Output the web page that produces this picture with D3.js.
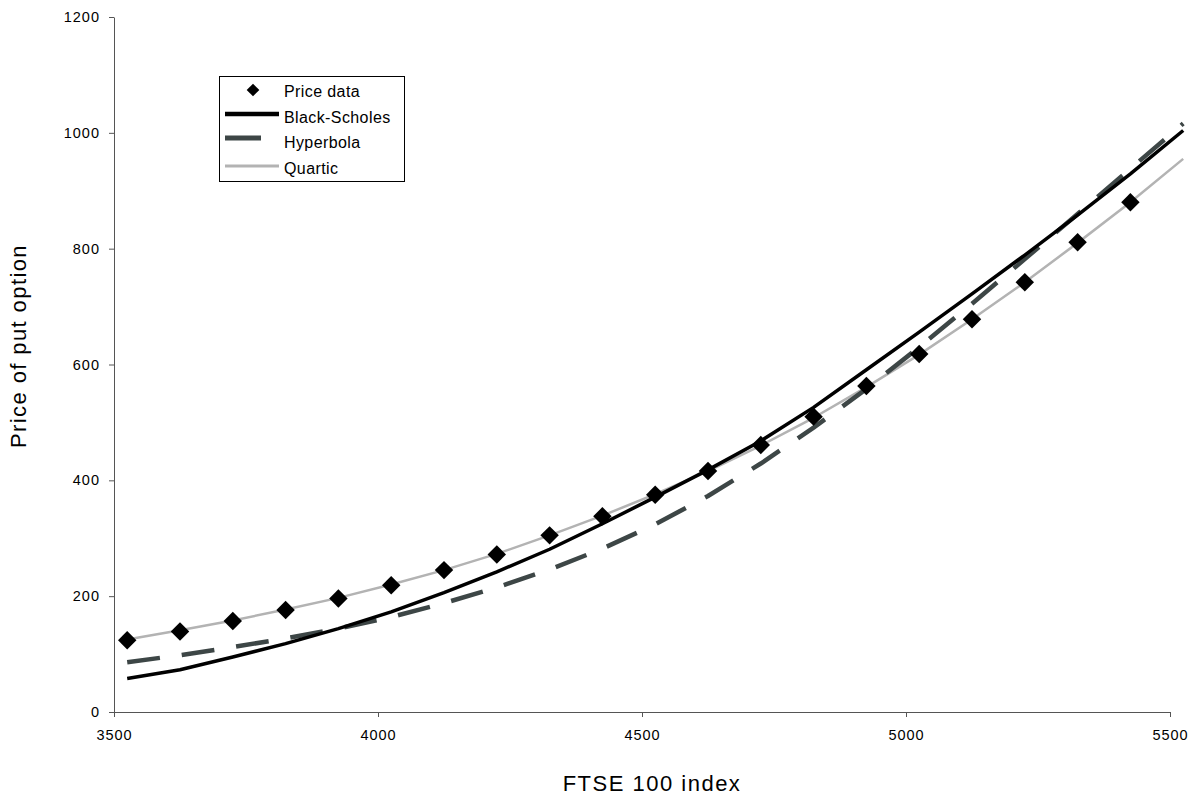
<!DOCTYPE html>
<html>
<head>
<meta charset="utf-8">
<script src="https://cdn.jsdelivr.net/npm/d3@7"></script>
<style>
    body { margin: 0; background: #fff; }
    svg { display: block; font-family: "Liberation Sans", Arial, sans-serif; }
</style>
</head>
<body>
<svg id="chart"></svg>
<script>
// --------------------
//  data
// --------------------
// FTSE 100 index (observed prices)
const priceX = [3525, 3625, 3725, 3825, 3925, 4025, 4125, 4225, 4325, 4425,
                4525, 4625, 4725, 4825, 4925, 5025, 5125, 5225, 5325, 5425];
const priceData = [124, 139, 157, 176, 196, 219, 245, 272, 305, 338,
                   375, 416, 461, 510, 563, 618, 678, 742, 811, 880];

// fitted curves (one more point at the right end)
const curveX = [3525, 3625, 3725, 3825, 3925, 4025, 4125, 4225, 4325, 4425,
                4525, 4625, 4725, 4825, 4925, 5025, 5125, 5225, 5325, 5425, 5525];
const blackScholes = [58, 73, 95, 118, 144, 173, 206, 242, 281, 325,
                      371, 418, 468, 526, 591, 656, 722, 789, 858, 929, 1004];
const hyperbola = [86, 98, 112, 127, 144, 164, 188, 215, 246, 282,
                   324, 373, 429, 491, 558, 630, 705, 782, 860, 938, 1016];
const quartic = [125, 141, 158, 177, 197, 220, 245, 273, 305, 339,
                 376, 416, 460, 508, 561, 617, 678, 742, 810, 880, 955];

const xTicks = [3500, 4000, 4500, 5000, 5500];
const yTicks = [0, 200, 400, 600, 800, 1000, 1200];
const legendLabels = ["Price data", "Black-Scholes", "Hyperbola", "Quartic"];

// --------------------
//  settings
// --------------------
const width = 1200;
const height = 796;
const fontFamily = '"Liberation Sans", Arial, sans-serif';

const x = d3.scaleLinear().domain([3500, 5500]).range([114, 1170]);
const y = d3.scaleLinear().domain([0, 1200]).range([712, 17]);

const svg = d3.select("#chart")
    .attr("width", width)
    .attr("height", height);

// --------------------
//  functions
// --------------------
function drawLine(xs, ys, stroke, strokeWidth, dash) {
    const line = d3.line()
        .x(d => x(d[0]))
        .y(d => y(d[1]));
    svg.append("path")
        .datum(d3.zip(xs, ys))
        .attr("fill", "none")
        .attr("stroke", stroke)
        .attr("stroke-width", strokeWidth)
        .attr("stroke-dasharray", dash)
        .attr("stroke-linejoin", "round")
        .attr("d", line);
}

function styleAxis(g) {
    g.selectAll(".domain, .tick line").attr("stroke", "#555");
    g.selectAll("text")
        .attr("fill", "#000")
        .attr("font-size", "14.5px")
        .attr("font-family", fontFamily)
        .attr("letter-spacing", "1px");
}

// --------------------
//  axes
// --------------------
svg.append("g")
    .attr("transform", "translate(0,712)")
    .call(d3.axisBottom(x).tickValues(xTicks).tickFormat(d3.format("d"))
        .tickSize(5).tickSizeOuter(0).tickPadding(13))
    .call(styleAxis);

svg.append("g")
    .attr("transform", "translate(114,0)")
    .call(d3.axisLeft(y).tickValues(yTicks).tickFormat(d3.format("d"))
        .tickSize(5).tickSizeOuter(0).tickPadding(9))
    .call(styleAxis);

// axis titles
svg.append("text")
    .attr("x", 652)
    .attr("y", 791)
    .attr("text-anchor", "middle")
    .attr("font-size", "22px")
    .attr("letter-spacing", "1.5px")
    .text("FTSE 100 index");

svg.append("text")
    .attr("transform", "translate(26,346) rotate(-90)")
    .attr("text-anchor", "middle")
    .attr("font-size", "22px")
    .attr("letter-spacing", "1.4px")
    .text("Price of put option");

// --------------------
//  series
// --------------------
drawLine(curveX, quartic, "#b3b3b3", 2.5, null);
drawLine(curveX, hyperbola, "#3d4646", 4.5, "33,22");
drawLine(curveX, blackScholes, "#000", 3.5, null);

const diamond = d3.symbol().type(d3.symbolSquare).size(170);
svg.append("g")
    .selectAll("path")
    .data(d3.zip(priceX, priceData))
    .join("path")
    .attr("transform", d => `translate(${x(d[0])},${y(d[1])}) rotate(45)`)
    .attr("d", diamond)
    .attr("fill", "#000");

// --------------------
//  legend
// --------------------
const legend = svg.append("g");
legend.append("rect")
    .attr("x", 219.5)
    .attr("y", 76.5)
    .attr("width", 185)
    .attr("height", 105)
    .attr("fill", "#fff")
    .attr("stroke", "#000");

const rowY = [90, 116, 141, 167];  // 各行の中心
legend.append("path")
    .attr("transform", `translate(253,${rowY[0]}) rotate(45)`)
    .attr("d", d3.symbol().type(d3.symbolSquare).size(80))
    .attr("fill", "#000");

legend.append("line")
    .attr("x1", 225).attr("x2", 279)
    .attr("y1", rowY[1] - 2).attr("y2", rowY[1] - 2)
    .attr("stroke", "#000").attr("stroke-width", 4.5);
legend.append("line")
    .attr("x1", 225).attr("x2", 261)
    .attr("y1", rowY[2] - 3).attr("y2", rowY[2] - 3)
    .attr("stroke", "#3d4646").attr("stroke-width", 5);
legend.append("line")
    .attr("x1", 225).attr("x2", 279)
    .attr("y1", rowY[3] - 1).attr("y2", rowY[3] - 1)
    .attr("stroke", "#b3b3b3").attr("stroke-width", 3);

legend.selectAll("text.label")
    .data(legendLabels)
    .join("text")
    .attr("class", "label")
    .attr("x", 284)
    .attr("y", (d, i) => rowY[i] + 7)
    .attr("font-size", "16px")
    .attr("letter-spacing", "0.4px")
    .text(d => d);
</script>
</body>
</html>
